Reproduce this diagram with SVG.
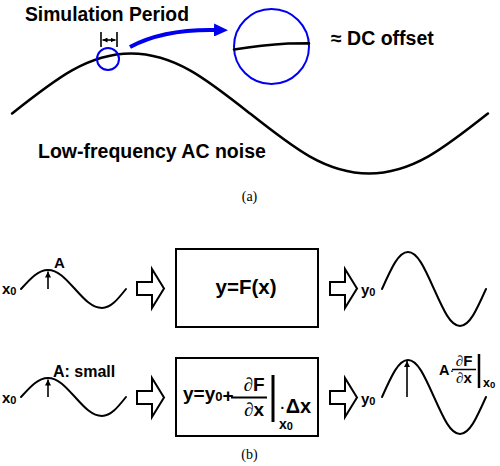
<svg xmlns="http://www.w3.org/2000/svg" xmlns:xlink="http://www.w3.org/1999/xlink" width="500" height="466" viewBox="0 0 500 466">
<style>
  .wave{fill:none;stroke:#000;stroke-linejoin:round;stroke-linecap:round}
  .lbl{font-family:"Liberation Sans",Arial,sans-serif;font-weight:bold;fill:#000}
  .cap{font-family:"Liberation Serif","Times New Roman",serif;font-size:14px;fill:#000}
  .pd{font-family:"Liberation Serif","Times New Roman",serif;font-weight:normal;font-style:italic}
  .box{fill:#fff;stroke:#000;stroke-width:2}
  .harrow{fill:#fff;stroke:#000;stroke-width:2;stroke-linejoin:miter}
  .blue{fill:none;stroke:#0000ee;stroke-width:2}
  .thin{stroke:#000;stroke-width:1.6;fill:none}
</style>
<defs>
  <marker id="ah" viewBox="0 0 10 10" refX="10" refY="5" markerWidth="7" markerHeight="6" markerUnits="userSpaceOnUse" orient="auto-start-reverse">
    <path d="M0,0 L10,5 L0,10 z" fill="#000"/>
  </marker>
  <marker id="ahs" viewBox="0 0 10 10" refX="10" refY="5" markerWidth="5" markerHeight="5" markerUnits="userSpaceOnUse" orient="auto-start-reverse">
    <path d="M0,0 L10,5 L0,10 z" fill="#000"/>
  </marker>
  <marker id="ahb" viewBox="0 0 14 13" refX="2" refY="6.5" markerWidth="14" markerHeight="13" markerUnits="userSpaceOnUse" orient="auto">
    <path d="M0,0 L14,6.5 L0,13 z" fill="#0000ee"/>
  </marker>
  <polygon id="hollow" class="harrow" points="0,-6.5 15,-6.5 15,-19.5 27,0 15,19.5 15,6.5 0,6.5"/>
  <path id="smallwave" class="wave" stroke-width="2" d="M21,289 C30.8,278.1 38.2,270 48,270 C57.8,270 65.2,278.1 75,289 C84.8,299.9 92.2,308 102,308 C110.7,308 117.3,299.9 126,289"/>
  <path id="bigwave" class="wave" stroke-width="2" d="M382,289 C391.5,267.8 398.5,252 408,252 C417.5,252 424.5,267.8 434,289 C443.5,310.2 450.5,326 460,326 C469.5,326 476.5,310.2 486,289"/>
</defs>
<rect width="500" height="466" fill="#fff"/>

<!-- (a) -->
<g id="noise-wave">
  <path class="wave" stroke-width="2.5" d="M12,113.5 C55.3,79.2 87.7,53.5 131,53.5 C174.3,53.5 206.7,79.2 250,113.5 C293.3,147.8 325.7,173.5 369,173.5 C412.3,173.5 444.7,147.8 488,113.5"/>
  <text class="lbl" x="38" y="158" font-size="19.5">Low-frequency AC noise</text>
</g>
<g id="sim-period">
  <text class="lbl" x="25" y="21" font-size="19.3">Simulation Period</text>
  <line class="thin" x1="101" y1="32" x2="101" y2="47" stroke-width="2"/>
  <line class="thin" x1="117" y1="32" x2="117" y2="47" stroke-width="2"/>
  <line class="thin" x1="102.5" y1="40" x2="115.5" y2="40" stroke-width="1.4" marker-start="url(#ahs)" marker-end="url(#ahs)"/>
  <circle class="blue" cx="108" cy="59" r="11"/>
</g>
<g id="zoom-circle">
  <circle class="blue" cx="271.5" cy="46.5" r="37.5"/>
  <path class="wave" stroke-width="2.6" stroke-linecap="butt" d="M234,49.5 Q262,45 288,43.5 L309,43.4"/>
  <text class="lbl" x="331" y="45" font-size="19.5">≈ DC offset</text>
</g>
<text class="cap" x="249.5" y="201" text-anchor="middle">(a)</text>

<!-- (b) row 1 -->
<g id="input1">
  <use xlink:href="#smallwave"/>
  <line class="thin" x1="48" y1="289" x2="48" y2="271.5" marker-end="url(#ah)"/>
  <text class="lbl" x="2" y="294" font-size="15">x<tspan font-size="11" dy="1">0</tspan></text>
  <text class="lbl" x="54" y="268" font-size="15">A</text>
</g>
<g id="box1">
  <rect class="box" x="176" y="249" width="142" height="78"/>
  <text class="lbl" x="246" y="294" font-size="20.5" text-anchor="middle">y=F(x)</text>
</g>
<g id="output1">
  <use xlink:href="#bigwave"/>
  <text class="lbl" x="361" y="295" font-size="15">y<tspan font-size="11" dy="1">0</tspan></text>
</g>

<!-- (b) row 2 -->
<g id="input2">
  <use xlink:href="#smallwave" transform="translate(0,108)"/>
  <line class="thin" x1="48" y1="397" x2="48" y2="379.5" marker-end="url(#ah)"/>
  <text class="lbl" x="2" y="403" font-size="15">x<tspan font-size="11" dy="1">0</tspan></text>
  <text class="lbl" x="53" y="377" font-size="16">A: small</text>
</g>
<g id="box2">
  <rect class="box" x="176" y="358" width="142" height="78"/>
  <text class="lbl" x="183" y="400" font-size="19">y=y<tspan font-size="13" dy="1">0</tspan><tspan dy="1">+</tspan></text>
  <line x1="231" y1="397.5" x2="267" y2="397.5" stroke="#000" stroke-width="2"/>
  <text class="lbl" x="254" y="391" font-size="19" text-anchor="middle"><tspan class="pd">∂</tspan>F</text>
  <text class="lbl" x="254" y="416" font-size="19" text-anchor="middle"><tspan class="pd">∂</tspan>x</text>
  <line x1="273" y1="375" x2="273" y2="422" stroke="#000" stroke-width="3"/>
  <text class="lbl" x="279" y="413" font-size="20"><tspan font-weight="normal">·</tspan>Δx</text>
  <text class="lbl" x="279" y="429" font-size="14">x<tspan font-size="11" dy="1">0</tspan></text>
</g>
<g id="output2">
  <use xlink:href="#bigwave" transform="translate(0,108)"/>
  <line class="thin" x1="407" y1="397" x2="407" y2="361" stroke-width="2" marker-end="url(#ah)"/>
  <text class="lbl" x="361" y="404" font-size="15">y<tspan font-size="11" dy="1">0</tspan></text>
  <text class="lbl" x="439" y="375" font-size="14.5">A<tspan font-weight="normal">·</tspan></text>
  <text class="lbl" x="464" y="365.5" font-size="15" text-anchor="middle"><tspan class="pd">∂</tspan>F</text>
  <line x1="452" y1="369.5" x2="476" y2="369.5" stroke="#000" stroke-width="1.5"/>
  <text class="lbl" x="464" y="383" font-size="15" text-anchor="middle"><tspan class="pd">∂</tspan>x</text>
  <line x1="479" y1="354" x2="479" y2="388" stroke="#000" stroke-width="2.5"/>
  <text class="lbl" x="483" y="387" font-size="12.5">x<tspan font-size="9.5" dy="1">0</tspan></text>
</g>
<text class="cap" x="249.5" y="459" text-anchor="middle">(b)</text>

<!-- connectors -->
<g id="connectors">
  <path d="M130,47 Q163,29 216,30" fill="none" stroke="#0000ee" stroke-width="4" marker-end="url(#ahb)"/>
  <use xlink:href="#hollow" x="137" y="288.5"/>
  <use xlink:href="#hollow" x="330" y="288.5"/>
  <use xlink:href="#hollow" x="137" y="397.5"/>
  <use xlink:href="#hollow" x="330" y="397.5"/>
</g>
</svg>
